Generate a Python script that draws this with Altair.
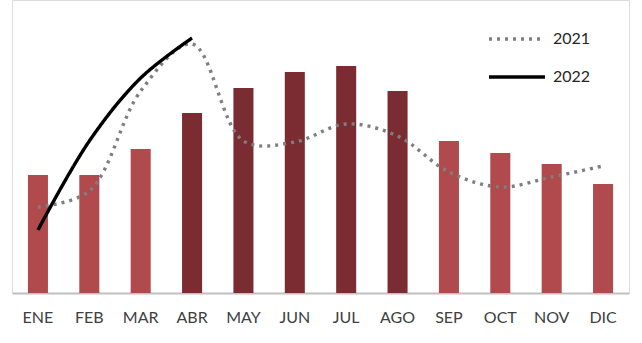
import altair as alt
import pandas as pd

months = ["ENE", "FEB", "MAR", "ABR", "MAY", "JUN", "JUL", "AGO", "SEP", "OCT", "NOV", "DIC"]
bar_values = [118, 118, 144, 180, 205, 221, 227, 202, 152, 140, 129, 109]
bar_tone = ["claro", "claro", "claro", "oscuro", "oscuro", "oscuro", "oscuro", "oscuro",
            "claro", "claro", "claro", "claro"]
line_2021 = [86, 102, 202, 249, 152, 151, 169, 157, 121, 106, 116, 127]
line_2022 = [63, 152, 215, 255, None, None, None, None, None, None, None, None]

bars_df = pd.DataFrame({"mes": months, "valor": bar_values, "tono": bar_tone})
rows = []
for m, a, b in zip(months, line_2021, line_2022):
    rows.append({"mes": m, "serie": "2021", "valor": a})
    if b is not None:
        rows.append({"mes": m, "serie": "2022", "valor": b})
lines_df = pd.DataFrame(rows)

FONT = "Lato"

x_enc = alt.X("mes:N", sort=months,
              scale=alt.Scale(paddingInner=0.61, paddingOuter=0.31),
              axis=alt.Axis(title=None, labelAngle=0, ticks=False, domainColor="#bfbfbf",
                            domainWidth=2, labelFont=FONT, labelFontSize=16,
                            labelColor="#404040", labelPadding=24, labelBaseline="middle",
                            grid=False))
y_scale = alt.Scale(domain=[0, 293], zero=True, nice=False)

legend_kw = dict(title=None, orient="none", legendX=475, legendY=9,
                 symbolType="stroke", symbolSize=3136, symbolStrokeWidth=3.6,
                 labelFont=FONT, labelFontSize=16, labelColor="#262626",
                 labelOffset=6, rowPadding=0, padding=0)

bars = alt.Chart(bars_df).mark_bar().encode(
    x=x_enc,
    y=alt.Y("valor:Q", scale=y_scale, axis=None),
    color=alt.Color("tono:N", scale=alt.Scale(domain=["claro", "oscuro"],
                                              range=["#b04a4d", "#7b2c33"]), legend=None),
)

lines = alt.Chart(lines_df).mark_line(interpolate="catmull-rom", strokeWidth=3.4).encode(
    x=alt.X("mes:N", sort=months),
    y=alt.Y("valor:Q", scale=y_scale, axis=None),
    stroke=alt.Stroke("serie:N", scale=alt.Scale(domain=["2021", "2022"],
                                                 range=["#7f7f7f", "#000000"]),
                      legend=alt.Legend(**legend_kw)),
    strokeDash=alt.StrokeDash("serie:N", scale=alt.Scale(domain=["2021", "2022"],
                                                         range=[[3, 5], [1, 0]]),
                              legend=alt.Legend(**legend_kw)),
)

chart = alt.layer(bars, lines).resolve_scale(color="independent").properties(
    width=617, height=293,
    autosize=alt.AutoSizeParams(type="none"),
    padding={"left": 12, "top": 0, "right": 13, "bottom": 50},
).configure_view(stroke=None).configure(background="white")

chart.save("out.html", embed_options={"renderer": "svg", "actions": False})
